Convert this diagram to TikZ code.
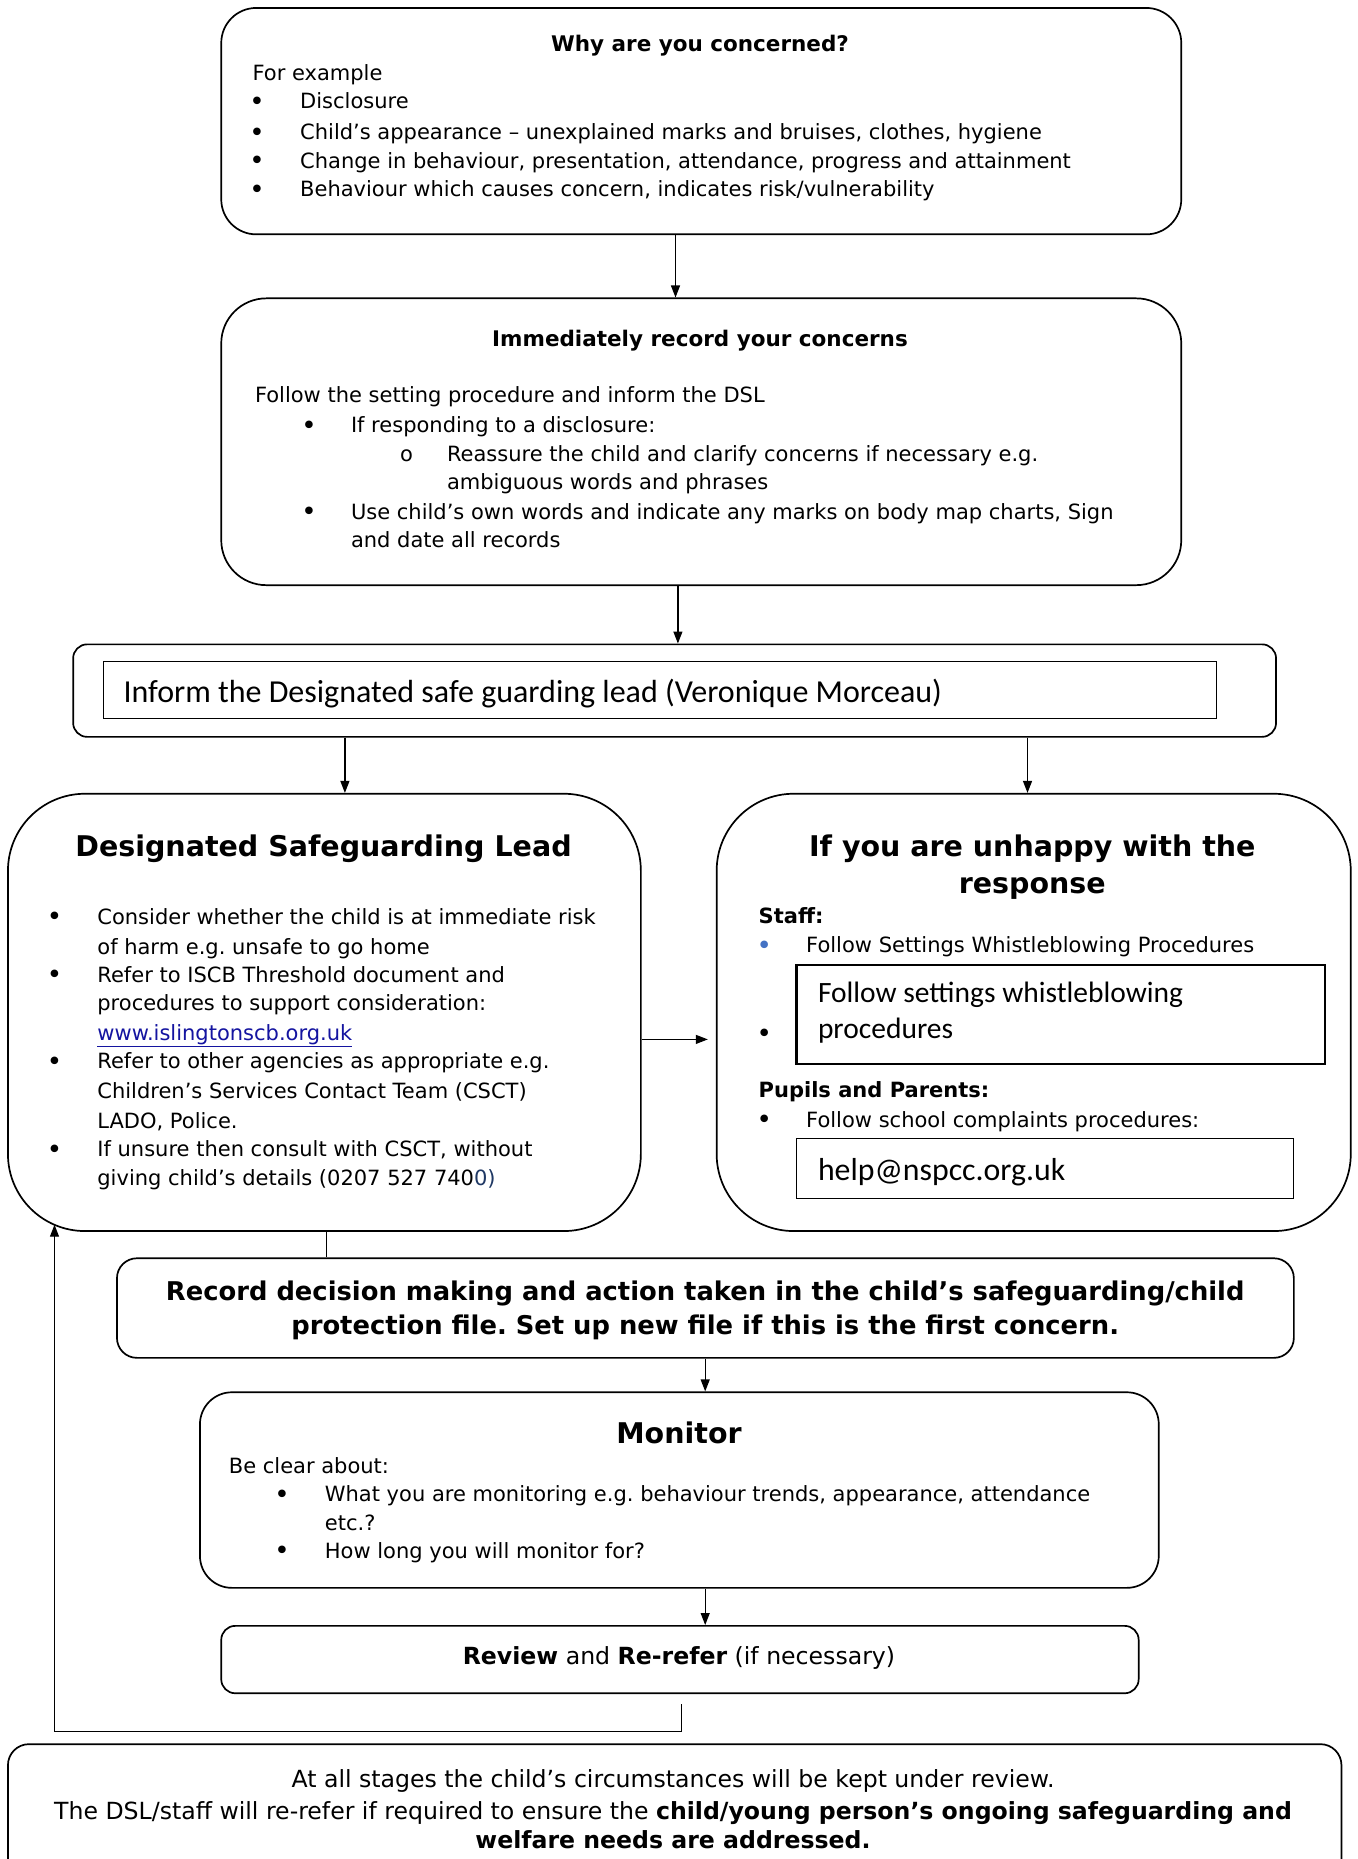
\documentclass[tikz,border=0pt]{standalone}
\usepackage{fontspec}
\setmainfont{DejaVu Sans}
\newfontfamily\calfont{Carlito}
\usetikzlibrary{arrows.meta}
\definecolor{urlblue}{RGB}{20,20,160}
\definecolor{darkblue}{RGB}{31,56,100}
\definecolor{bulblue}{RGB}{68,114,196}
\begin{document}
\frenchspacing
\begin{tikzpicture}[x=1pt,y=-1pt,
  box/.style={draw, line width=1.7pt, inner sep=0pt, anchor=north west},
  arr/.style={line width=1.2pt, -{Triangle[length=12pt,width=9pt]}},
  con/.style={line width=1.2pt},
  ln/.style={anchor=base west, inner sep=0pt, font=\fontsize{21}{24}\selectfont},
  lc/.style={anchor=base, inner sep=0pt, font=\fontsize{23.6}{26}\selectfont},
  bul/.style={anchor=base, inner sep=0pt, font=\fontsize{26}{28}\selectfont, yshift=-1.5pt},
  ttl/.style={anchor=base, inner sep=0pt, font=\fontsize{21.5}{24}\selectfont\bfseries},
  big/.style={anchor=base, inner sep=0pt, font=\fontsize{28.5}{30}\selectfont\bfseries},
  cal/.style={anchor=base west, inner sep=0pt, font=\fontsize{29.5}{30}\calfont}]
\useasboundingbox (0,0) rectangle (1357,1859);
\clip (0,0) rectangle (1357,1859);
\fill[white] (0,0) rectangle (1357,1859);

% ---------- boxes ----------
\node[box, rounded corners=35pt, minimum width=960pt, minimum height=226.4pt] (b1) at (220.4,7.1) {};
\node[box, rounded corners=45pt, minimum width=960pt, minimum height=286.8pt] (b2) at (220.4,297.5) {};
\node[box, rounded corners=14pt, minimum width=1202.9pt, minimum height=92.5pt] (b3) at (72.3,643.5) {};
\node[draw, line width=1pt, inner sep=0pt, anchor=north west, minimum width=1112.9pt, minimum height=56.9pt] (b3in) at (103.1,661.3) {};
\node[box, rounded corners=77pt, minimum width=632.9pt, minimum height=437.3pt] (dsl) at (7.1,792.9) {};
\node[box, rounded corners=77pt, minimum width=634.1pt, minimum height=437.3pt] (unh) at (715.8,792.9) {};
\node[draw, line width=2.4pt, inner sep=0pt, anchor=north west, minimum width=528.5pt, minimum height=99.5pt] (wbox) at (795.3,963.5) {};
\node[draw, line width=1pt, inner sep=0pt, anchor=north west, minimum width=496.6pt, minimum height=60.4pt] (hbox) at (796.4,1137.8) {};
\node[box, rounded corners=20pt, minimum width=1176.9pt, minimum height=99.6pt] (rec) at (116.1,1257.4) {};
\node[box, rounded corners=32pt, minimum width=958.8pt, minimum height=195.6pt] (mon) at (199.1,1391.4) {};
\node[box, rounded corners=14pt, minimum width=917.4pt, minimum height=67.4pt] (rev) at (220.4,1625) {};
\node[box, rounded corners=21pt, minimum width=1333.5pt, minimum height=170pt] (bot) at (7.1,1743.3) {};

% ---------- connectors ----------
\coordinate (x1) at (675.5,0);
\coordinate (x2) at (677.9,0);
\coordinate (xa) at (344.9,0);
\coordinate (xb) at (1027.5,0);
\coordinate (xc) at (705.2,0);
\coordinate (yh) at (0,1039.4);
\draw[arr] (b1.south -| x1) -- (b2.north -| x1);
\draw[arr] (b2.south -| x2) -- (b3.north -| x2);
\draw[arr] (b3.south -| xa) -- (dsl.north -| xa);
\draw[arr] (b3.south -| xb) -- (unh.north -| xb);
\draw[arr, shorten >=8pt] (dsl.east |- yh) -- (unh.west |- yh);
\draw[con] ([xshift=2.4pt]dsl.south) -- ([xshift=2.4pt]dsl.south |- rec.north);
\draw[arr] (rec.south -| xc) -- (mon.north -| xc);
\draw[arr] (mon.south -| xc) -- (rev.north -| xc);
\coordinate (fb) at (681.5,1704.3);
\draw[arr] (fb) -- (681.5,1731.5) -- (54.5,1731.5) -- ([xshift=47.4pt,yshift=7.2pt]dsl.south west);

% ---------- box 1 ----------
\node[ttl] (t1) at (700,52) {Why are you concerned?};
\node[ln] (t1a) at (252.4,80.5) {For example};
\node[bul] (t1b1) at (257,109) {•};
\node[ln] (t1b) at (300,109) {Disclosure};
\node[bul] (t1c1) at (257,139.7) {•};
\node[ln] (t1c) at (300,139.7) {Child’s appearance – unexplained marks and bruises, clothes, hygiene};
\node[bul] (t1d1) at (257,168.2) {•};
\node[ln] (t1d) at (300,168.2) {Change in behaviour, presentation, attendance, progress and attainment};
\node[bul] (t1e1) at (257,196.6) {•};
\node[ln] (t1e) at (300,196.6) {Behaviour which causes concern, indicates risk/vulnerability};

% ---------- box 2 ----------
\node[ttl] (t2) at (700,346) {Immediately record your concerns};
\node[ln] (t2a) at (254.8,402.8) {Follow the setting procedure and inform the DSL};
\node[bul] (t2b1) at (309,432.5) {•};
\node[ln] (t2b) at (350.8,432.5) {If responding to a disclosure:};
\node[ln, anchor=base] (t2c1) at (406.5,461) {o};
\node[ln] (t2c) at (446.8,461) {Reassure the child and clarify concerns if necessary e.g.};
\node[ln] (t2d) at (446.8,489.4) {ambiguous words and phrases};
\node[bul] (t2e1) at (309,519) {•};
\node[ln] (t2e) at (350.8,519) {Use child’s own words and indicate any marks on body map charts, Sign};
\node[ln] (t2f) at (350.8,547.4) {and date all records};

% ---------- box 3 ----------
\node[cal, font=\fontsize{32}{34}\calfont] (t3) at (123.3,702.5) {Inform the Designated safe guarding lead (Veronique Morceau)};

% ---------- DSL ----------
\node[big] (t4) at (323.5,856) {Designated Safeguarding Lead};
\node[bul] (t4a1) at (54.5,924.3) {•};
\node[ln] (t4a) at (97.2,924.3) {Consider whether the child is at immediate risk};
\node[ln] (t4b) at (97.2,954) {of harm e.g. unsafe to go home};
\node[bul] (t4c1) at (54.5,982.4) {•};
\node[ln] (t4c) at (97.2,982.4) {Refer to ISCB Threshold document and};
\node[ln] (t4d) at (97.2,1010.8) {procedures to support consideration:};
\node[ln, text=urlblue] (t4e) at (97.2,1040.5) {\underline{www.islingtonscb.org.uk}};
\node[bul] (t4f1) at (54.5,1068.9) {•};
\node[ln] (t4f) at (97.2,1068.9) {Refer to other agencies as appropriate e.g.};
\node[ln] (t4g) at (97.2,1098.5) {Children’s Services Contact Team (CSCT)};
\node[ln] (t4h) at (97.2,1128.2) {LADO, Police.};
\node[bul] (t4i1) at (54.5,1156.6) {•};
\node[ln] (t4i) at (97.2,1156.6) {If unsure then consult with CSCT, without};
\node[ln] (t4j) at (97.2,1185) {giving child’s details (0207 527 740\textcolor{darkblue}{0)}};

% ---------- unhappy ----------
\node[big] (t5) at (1032.3,856) {If you are unhappy with the};
\node[big] (t5b) at (1032.3,893) {response};
\node[ln, font=\fontsize{21}{24}\selectfont\bfseries] (t5c) at (758.5,923) {Staff:};
\node[bul, text=bulblue] (t5d1) at (764.4,952.8) {•};
\node[ln] (t5d) at (806,952.8) {Follow Settings Whistleblowing Procedures};
\node[cal] (t5e) at (817.8,1002) {Follow settings whistleblowing};
\node[cal] (t5f) at (817.8,1038.7) {procedures};
\node[bul] (t5f1) at (764.4,1040.5) {•};
\node[ln, font=\fontsize{21}{24}\selectfont\bfseries] (t5g) at (758.5,1097.4) {Pupils and Parents:};
\node[bul] (t5h1) at (764.4,1127) {•};
\node[ln] (t5h) at (806,1127) {Follow school complaints procedures:};
\node[cal, font=\fontsize{31.8}{34}\calfont] (t5i) at (817.8,1180) {help@nspcc.org.uk};

% ---------- record ----------
\node[ttl, font=\fontsize{25.8}{28}\selectfont\bfseries] (t6) at (705.2,1300.5) {Record decision making and action taken in the child’s safeguarding/child};
\node[ttl, font=\fontsize{25.8}{28}\selectfont\bfseries] (t6b) at (705.2,1334.7) {protection file. Set up new file if this is the first concern.};

% ---------- monitor ----------
\node[big] (t7) at (679,1443) {Monitor};
\node[ln] (t7a) at (228.7,1473) {Be clear about:};
\node[bul] (t7b1) at (282,1501.5) {•};
\node[ln] (t7b) at (324.7,1501.5) {What you are monitoring e.g. behaviour trends, appearance, attendance};
\node[ln] (t7c) at (324.7,1530) {etc.?};
\node[bul] (t7d1) at (282,1558.4) {•};
\node[ln] (t7d) at (324.7,1558.4) {How long you will monitor for?};

% ---------- review ----------
\node[lc] (t8) at (679,1664) {\textbf{Review} and \textbf{Re-refer} (if necessary)};

% ---------- bottom ----------
\node[lc] (t9) at (673,1787) {At all stages the child’s circumstances will be kept under review.};
\node[lc] (t9b) at (673,1819) {The DSL/staff will re-refer if required to ensure the \textbf{child/young person’s ongoing safeguarding and}};
\node[lc] (t9c) at (673,1848.5) {\textbf{welfare needs are addressed.}};
\end{tikzpicture}
\end{document}
